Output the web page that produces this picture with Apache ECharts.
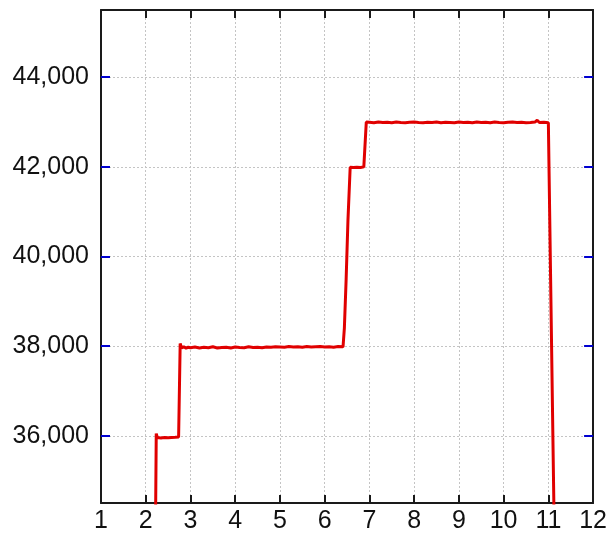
<!DOCTYPE html>
<html>
<head>
<meta charset="utf-8">
<script src="https://cdn.jsdelivr.net/npm/echarts@6/dist/echarts.min.js"></script>
<style>html,body{margin:0;padding:0;background:#fff}#c{width:610px;height:534px}</style>
</head>
<body>
<div id="c"></div>
<script>
// x ticks and y ticks
const xTicks = [1,2,3,4,5,6,7,8,9,10,11,12];
const yTicks = [36000, 38000, 40000, 42000, 44000];
// signal: time (x) and value (y)
const time = [
  2.22, 2.235, 2.26, 2.30, 2.34, 2.38, 2.42, 2.46, 2.50, 2.54, 2.58, 2.62, 2.66, 2.70, 2.735,
  2.77, 2.80, 2.85, 2.90, 2.95, 3.00, 3.1, 3.2, 3.3, 3.4, 3.5, 3.6, 3.7, 3.8, 3.9, 4.0, 4.1, 4.2, 4.3, 4.4, 4.5, 4.6, 4.7, 4.8, 4.9, 5.0, 5.1, 5.2, 5.3, 5.4, 5.5, 5.6, 5.7, 5.8, 5.9, 6.0, 6.1, 6.2, 6.3, 6.41,
  6.44, 6.48, 6.52, 6.57, 6.60, 6.64, 6.68, 6.72, 6.76, 6.80, 6.84, 6.875,
  6.93, 6.97, 7.0, 7.1, 7.2, 7.3, 7.4, 7.5, 7.6, 7.7, 7.8, 7.9, 8.0, 8.1, 8.2, 8.3, 8.4, 8.5, 8.6, 8.7, 8.8, 8.9, 9.0, 9.1, 9.2, 9.3, 9.4, 9.5, 9.6, 9.7, 9.8, 9.9, 10.0, 10.1, 10.2, 10.3, 10.4, 10.5, 10.6, 10.7, 10.75, 10.8, 10.9, 11.0, 11.04,
  11.13
];
const value = [
  34200, 36050, 35960, 35980, 35950, 35975, 35960, 35985, 35955, 35970, 35960, 35980, 35965, 35970, 35975,
  38060, 37960, 37985, 37955, 37975, 37965, 37980, 37960, 37975, 37965, 37985, 37960, 37970, 37975, 37960, 37980, 37970, 37965, 37985, 37970, 37975, 37965, 37980, 37975, 37985, 37980, 37975, 37990, 37980, 37985, 37975, 37990, 37980, 37985, 37990, 37980, 37985, 37975, 37990, 37985,
  38400, 39500, 40800, 41990, 42005, 41985, 42000, 41990, 42005, 41985, 41995, 42000,
  43000, 42985, 42995, 42985, 43000, 42990, 42995, 42985, 43000, 42990, 42985, 42995, 43000, 42990, 42985, 42995, 42990, 43000, 42985, 42995, 42990, 42985, 43000, 42990, 42995, 42985, 43000, 42990, 42995, 42985, 43000, 42990, 42985, 42995, 43000, 42990, 42995, 42985, 42990, 43000, 43040, 42990, 42995, 42985, 42980,
  34000
];

const chart = echarts.init(document.getElementById('c'));
const font = 'Liberation Sans, Arial, sans-serif';
const gridLine = { show: true, lineStyle: { color: '#c4c4c4', type: [2, 2], width: 1 } };
const xBase = {
  type: 'value', min: 1, max: 12, interval: 1,
  axisLine: { show: true, onZero: false, lineStyle: { color: '#1a1a1a', width: 2 } },
  axisTick: { show: true, inside: true, length: 8, lineStyle: { color: '#1a1a1a', width: 2 } }
};
const yBase = {
  type: 'value', min: 34500, max: 45500,
  axisLine: { show: true, onZero: false, lineStyle: { color: '#1a1a1a', width: 2 } },
  axisTick: { show: true, inside: true, length: 9, customValues: yTicks, lineStyle: { color: '#0000d0', width: 2 } }
};
chart.setOption({
  animation: false,
  backgroundColor: '#fff',
  grid: { left: 101, right: 12, top: 10, bottom: 30, containLabel: false },
  xAxis: [
    Object.assign({}, xBase, {
      position: 'bottom',
      axisLabel: { show: true, color: '#111', fontSize: 25, fontFamily: font, margin: 6 },
      splitLine: gridLine
    }),
    Object.assign({}, xBase, {
      position: 'top',
      axisLabel: { show: false },
      splitLine: { show: false }
    })
  ],
  yAxis: [
    Object.assign({}, yBase, {
      position: 'left',
      axisLabel: { show: true, customValues: yTicks, color: '#111', fontSize: 25, fontFamily: font, margin: 12,
        formatter: v => v.toLocaleString('en-US') },
      splitLine: gridLine
    }),
    Object.assign({}, yBase, {
      position: 'right',
      axisLabel: { show: false },
      splitLine: { show: false }
    })
  ],
  series: [{
    type: 'line',
    xAxisIndex: 0, yAxisIndex: 0,
    data: time.map((t, i) => [t, value[i]]),
    showSymbol: false,
    clip: true,
    lineStyle: { color: '#e00000', width: 3 },
    itemStyle: { color: '#e00000' }
  }]
});
</script>
</body>
</html>
